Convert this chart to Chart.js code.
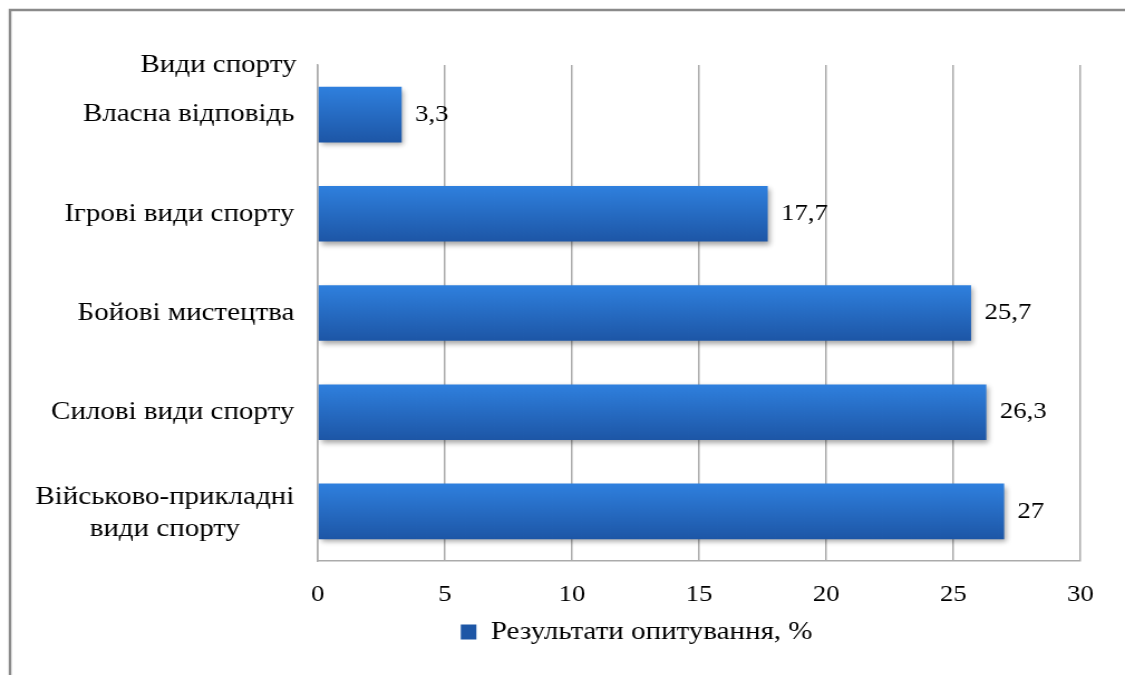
<!DOCTYPE html>
<html lang="uk">
<head>
<meta charset="utf-8">
<title>Види спорту</title>
<script src="https://cdn.jsdelivr.net/npm/chart.js@4/dist/chart.umd.min.js"></script>
<style>
  html, body { margin: 0; padding: 0; background: #ffffff; overflow: hidden; }
  #wrap { position: relative; width: 1125px; height: 675px; }
</style>
</head>
<body>
<div id="wrap">
  <!-- drawing surface is widened on screen so the serif text gets the wide look -->
  <canvas id="chart" width="1009" height="675" style="display:block;width:1125px;height:675px"></canvas>
</div>
<script>
// Survey data: preferred kinds of sport
const categories = [
  'Власна відповідь',
  'Ігрові види спорту',
  'Бойові мистецтва',
  'Силові види спорту',
  ['Військово-прикладні', 'види спорту']
];
const values = [3.3, 17.7, 25.7, 26.3, 27];
const axisHeader = 'Види спорту';
const seriesName = 'Результати опитування, %';
const xMin = 0;
const xMax = 30;
const xStep = 5;

const FONT = "'Liberation Serif', 'Times New Roman', serif";
const LABEL_SIZE = 26;
const NUM_SIZE = 24;
const BAR_PCT = 0.56;
const GRID = '#ababab';
const BAR_SOLID = '#2767c0';

// Vertical gradient per bar, lighter at the top edge
function barFill(ctx) {
  const chart = ctx.chart;
  const y = chart.scales && chart.scales.y;
  if (ctx.type !== 'data' || !y) return BAR_SOLID;
  const c = y.getPixelForValue(ctx.dataIndex);
  const step = Math.abs(y.getPixelForValue(1) - y.getPixelForValue(0));
  if (!isFinite(c) || !isFinite(step) || step === 0) return BAR_SOLID;
  const half = step * BAR_PCT / 2;
  const g = chart.ctx.createLinearGradient(0, c - half, 0, c + half);
  g.addColorStop(0, '#2f80de');
  g.addColorStop(1, '#1d56a6');
  return g;
}

// Frame around the chart (top and left edges)
const framePlugin = {
  id: 'frame',
  beforeDraw(chart) {
    const c = chart.ctx;
    c.save();
    c.strokeStyle = '#8a8a8a';
    c.lineWidth = 2.5;
    c.beginPath();
    c.moveTo(9, chart.height + 5);
    c.lineTo(9, 10);
    c.lineTo(chart.width + 5, 10);
    c.stroke();
    c.restore();
  }
};

// Soft drop shadow under the bars
const shadowPlugin = {
  id: 'barShadow',
  beforeDatasetsDraw(chart) {
    const c = chart.ctx;
    c.save();
    c.shadowColor = 'rgba(0,0,0,0.35)';
    c.shadowBlur = 5;
    c.shadowOffsetX = 2;
    c.shadowOffsetY = 3;
  },
  afterDatasetsDraw(chart) {
    chart.ctx.restore();
  }
};

// Category labels (multi-line ones centred on each other) and the header
const categoryLabels = {
  id: 'categoryLabels',
  afterDraw(chart) {
    const c = chart.ctx;
    const y = chart.scales.y;
    const right = chart.chartArea.left - 21;
    const lineH = 32;
    c.save();
    c.font = LABEL_SIZE + 'px ' + FONT;
    c.fillStyle = '#000';
    c.textBaseline = 'middle';
    categories.forEach((lab, i) => {
      const cy = y.getPixelForValue(i);
      const lines = Array.isArray(lab) ? lab : [lab];
      if (lines.length === 1) {
        c.textAlign = 'right';
        c.fillText(lines[0], right, cy);
      } else {
        const w = Math.max(...lines.map(t => c.measureText(t).width));
        const cx = right - w / 2;
        c.textAlign = 'center';
        lines.forEach((t, k) => {
          c.fillText(t, cx, cy + 2 + (k - (lines.length - 1) / 2) * lineH);
        });
      }
    });
    c.textAlign = 'right';
    c.fillText(axisHeader, right + 2, chart.chartArea.top);
    c.restore();
  }
};

// Value labels at the end of each bar
const valueLabels = {
  id: 'valueLabels',
  afterDatasetsDraw(chart) {
    const c = chart.ctx;
    const meta = chart.getDatasetMeta(0);
    c.save();
    c.font = NUM_SIZE + 'px ' + FONT;
    c.fillStyle = '#000';
    c.textAlign = 'left';
    c.textBaseline = 'middle';
    meta.data.forEach((bar, i) => {
      const txt = String(values[i]).replace('.', ',');
      c.fillText(txt, bar.x + 12, bar.y);
    });
    c.restore();
  }
};

// Legend placed a little right of the canvas centre
const LEGEND_CENTER = 571;
const legendShift = {
  id: 'legendShift',
  afterLayout(chart) {
    const lg = chart.legend;
    if (!lg) return;
    const mid = (lg.left + lg.right) / 2;
    const d = LEGEND_CENTER - mid;
    lg.left += d;
    lg.right += d;
    if (lg.legendHitBoxes) lg.legendHitBoxes.forEach(h => { h.left += d; });
  }
};

new Chart(document.getElementById('chart'), {
  type: 'bar',
  data: {
    labels: categories,
    datasets: [{
      label: seriesName,
      data: values,
      backgroundColor: barFill,
      borderWidth: 0,
      categoryPercentage: 1,
      barPercentage: BAR_PCT
    }]
  },
  options: {
    indexAxis: 'y',
    responsive: false,
    animation: false,
    devicePixelRatio: 1,
    layout: { padding: { left: 0, top: 65, right: 40, bottom: 20 } },
    scales: {
      x: {
        min: xMin,
        max: xMax,
        ticks: {
          stepSize: xStep,
          color: '#000',
          padding: 19,
          font: { family: FONT, size: NUM_SIZE }
        },
        grid: { color: GRID, lineWidth: 1.5, drawTicks: false },
        border: { display: true, color: GRID, width: 1.5 },
        afterFit(s) { s.height = 50; }
      },
      y: {
        ticks: { display: false },
        grid: { display: false },
        border: { display: true, color: GRID, width: 1.5 },
        afterFit(s) { s.width = 285; }
      }
    },
    plugins: {
      legend: {
        position: 'bottom',
        labels: {
          color: '#000',
          boxWidth: 14,
          boxHeight: 15,
          padding: 8,
          font: { family: FONT, size: LABEL_SIZE }
        }
      },
      tooltip: { enabled: false }
    }
  },
  plugins: [framePlugin, shadowPlugin, valueLabels, categoryLabels, legendShift]
});
</script>
</body>
</html>
